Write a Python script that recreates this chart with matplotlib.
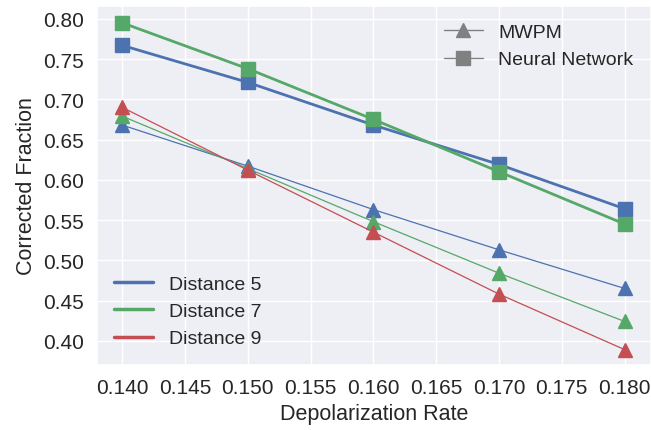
import numpy as np
import matplotlib
matplotlib.use("Agg")
import matplotlib.pyplot as plt
import seaborn as sns
from matplotlib.lines import Line2D

sns.set_theme(style="darkgrid")
plt.rcParams['font.family'] = ['Liberation Sans', 'DejaVu Sans']
plt.rcParams['axes.facecolor'] = '#EEEEF5'

rates = [0.14, 0.15, 0.16, 0.17, 0.18]
distances = [5, 7, 9]
mwpm = {
    5: [0.668, 0.617, 0.563, 0.513, 0.465],
    7: [0.679, 0.614, 0.548, 0.484, 0.424],
    9: [0.690, 0.612, 0.535, 0.458, 0.389],
}
nn = {
    5: [0.767, 0.721, 0.668, 0.619, 0.564],
    7: [0.795, 0.738, 0.675, 0.610, 0.545],
}

pal = sns.color_palette("deep")
colors = {5: pal[0], 7: pal[2], 9: pal[3]}

fig, ax = plt.subplots(figsize=(6.51, 4.31), dpi=100)
for d in distances:
    ax.plot(rates, mwpm[d], color=colors[d], lw=0.9, marker='^', ms=10)
for d in nn:
    ax.plot(rates, nn[d], color=colors[d], lw=2, marker='s', ms=10)

xt = np.arange(0.140, 0.1801, 0.005)
yt = np.arange(0.40, 0.801, 0.05)
ax.set_xlim(0.138, 0.1821)
ax.set_ylim(0.370, 0.816)
ax.set_xticks(xt)
ax.set_xticklabels(["%.3f" % v for v in xt])
ax.set_yticks(yt)
ax.set_yticklabels(["%.2f" % v for v in yt])
ax.tick_params(labelsize=15)
ax.set_xlabel("Depolarization Rate", fontsize=15.5)
ax.set_ylabel("Corrected Fraction", fontsize=15.5)

h1 = [Line2D([], [], color='gray', lw=1, marker='^', ms=10),
      Line2D([], [], color='gray', lw=1, marker='s', ms=10)]
leg1 = ax.legend(h1, ["MWPM", "Neural Network"], loc='upper right', frameon=False, fontsize=14)
ax.add_artist(leg1)
h2 = [Line2D([], [], color=colors[d], lw=2.5) for d in distances]
ax.legend(h2, ["Distance %d" % d for d in distances], loc='lower left', frameon=False, fontsize=14)

fig.subplots_adjust(left=0.149, right=1.0, top=0.984, bottom=0.151)
fig.savefig("out.png", dpi=100)
